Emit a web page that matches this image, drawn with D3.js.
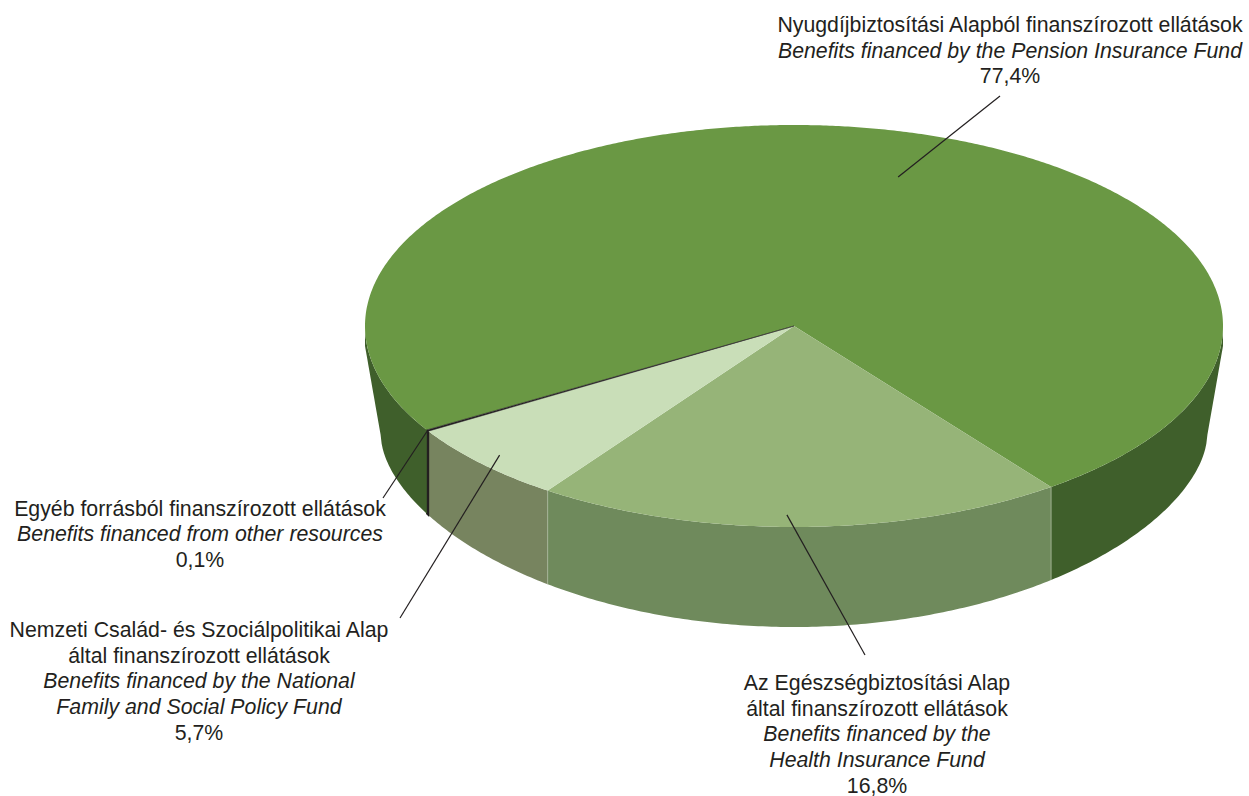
<!DOCTYPE html>
<html>
<head>
  <meta charset="utf-8">
  <style>
    html, body { margin: 0; padding: 0; background: #fff; }
    svg { display: block; }
    svg text { font: 21.3px "Liberation Sans", Arial, sans-serif; fill: #231f20; text-anchor: middle; }
    svg text.en { font-style: italic; }
    svg .leader { stroke: #231f20; stroke-width: 1.2px; fill: none; }
  </style>
</head>
<body>
  <div id="chart"></div>
  <script src="https://d3js.org/d3.v7.min.js"></script>
  <script>
    // data, in pie order going clockwise from the front right edge
    var shares = [16.8, 5.7, 0.1, 77.4];
    var huLines = [
      ["Az Egészségbiztosítási Alap", "által finanszírozott ellátások"],
      ["Nemzeti Család- és Szociálpolitikai Alap", "által finanszírozott ellátások"],
      ["Egyéb forrásból finanszírozott ellátások"],
      ["Nyugdíjbiztosítási Alapból finanszírozott ellátások"]
    ];
    var enLines = [
      ["Benefits financed by the", "Health Insurance Fund"],
      ["Benefits financed by the National", "Family and Social Policy Fund"],
      ["Benefits financed from other resources"],
      ["Benefits financed by the Pension Insurance Fund"]
    ];
    var topColors = ["#96b478", "#c9deb8", "#231f20", "#6a9844"];
    var wallColors = ["#6f8a5c", "#77845f", "#231f20", "#3f5f2b"];

    // label placement: text centre, first baseline, leader end, leader anchor on the slice
    var labelX = [877, 199, 200, 1010];
    var labelY = [690, 637, 515.5, 32];
    var leaderEnd = [[865, 655], [400, 618], [383, 498], [1000, 96]];
    var anchorNudge = [1.6, 0, 0, 12];    // degrees off the slice middle
    var anchorRadius = [0.94, 0.94, 1, 0.78];
    var lineGap = 25.7;

    var width = 1249, height = 796;
    var cx = 794, cy = 326, rx = 429, ry = 201;       // top ellipse
    var bottomCy = 437, bottomRx = 413, bottomRy = 190;  // lower rim is smaller, seen in perspective
    var rimShape = 0.58;                              // lower rim bulges less than a true ellipse
    var rimY = 346;                                   // where the wall leaves the top ellipse
    var perspective = 1.2;
    var rad = Math.PI / 180;

    // angle from the front of the pie (clockwise on screen) -> angle on the drawn ellipse
    function ellipseAngle(a) {
      return 2 * Math.atan2(perspective * Math.sin(a / 2), Math.cos(a / 2));
    }
    function backAngle(e) {
      return 2 * Math.atan2(Math.sin(e / 2), perspective * Math.cos(e / 2));
    }
    function project(a, r) {
      var e = ellipseAngle(a);
      return [cx - rx * r * Math.sin(e), cy + ry * r * Math.cos(e)];
    }
    // lower rim below a point of the top edge
    function lowerPoint(p) {
      var dx = Math.abs(p[0] - cx);
      if (dx <= bottomRx) {
        return [p[0], bottomCy + bottomRy * Math.pow(1 - dx * dx / (bottomRx * bottomRx), rimShape)];
      }
      var k = (dx - bottomRx) / (rx - bottomRx);
      return [p[0], bottomCy + (rimY - bottomCy) * k];
    }

    var pie = d3.pie().sort(null).value(function (d) { return d; })
      .startAngle(-31 * rad).endAngle(329 * rad);
    var slices = pie(shares);

    var svg = d3.select("#chart").append("svg")
      .attr("width", width)
      .attr("height", height);

    var line = d3.line();

    function arcPoints(a0, a1) {
      var n = Math.max(2, Math.ceil(Math.abs(a1 - a0) / (0.5 * rad)));
      return d3.range(n + 1).map(function (i) {
        return project(a0 + (a1 - a0) * i / n, 1);
      });
    }

    // parts of a slice that lie on the front half of the ellipse
    var frontHalf = backAngle(Math.PI / 2);
    function frontRanges(d) {
      var out = [];
      [0, 2 * Math.PI].forEach(function (turn) {
        var lo = Math.max(d.startAngle, turn - frontHalf);
        var hi = Math.min(d.endAngle, turn + frontHalf);
        if (hi > lo) out.push([lo, hi]);
      });
      return out;
    }

    // walls
    slices.forEach(function (d, i) {
      frontRanges(d).forEach(function (range) {
        var top = arcPoints(range[0], range[1]);
        var lower = top.map(lowerPoint).reverse();
        svg.append("path")
          .attr("d", line(top.concat(lower)) + "Z")
          .attr("fill", wallColors[i])
          .attr("stroke", i === 2 ? wallColors[i] : "none")
          .attr("stroke-width", i === 2 ? 1.6 : 0);
      });
    });

    // pale seams between the walls
    [slices[0].startAngle, slices[0].endAngle].forEach(function (a) {
      var p = project(a, 1), q = lowerPoint(p);
      svg.append("line")
        .attr("x1", p[0]).attr("y1", p[1])
        .attr("x2", q[0]).attr("y2", q[1])
        .attr("stroke", "#a9b99c")
        .attr("stroke-width", 0.8);
    });

    // top faces, big slice first so the dark sliver stays on top
    d3.range(slices.length).sort(function (a, b) { return shares[b] - shares[a]; }).forEach(function (i) {
      var d = slices[i];
      var pts = [[cx, cy]].concat(arcPoints(d.startAngle, d.endAngle));
      svg.append("path")
        .attr("d", line(pts) + "Z")
        .attr("fill", topColors[i])
        .attr("stroke", i === 2 ? topColors[i] : "none")
        .attr("stroke-width", i === 2 ? 0.5 : 0);
    });

    // leaders
    slices.forEach(function (d, i) {
      var mid = (d.startAngle + d.endAngle) / 2 + anchorNudge[i] * rad;
      var p = project(mid, anchorRadius[i]);
      svg.append("path")
        .attr("class", "leader")
        .attr("d", line([p, leaderEnd[i]]));
    });

    // labels
    slices.forEach(function (d, i) {
      var value = d.data.toFixed(1).replace(".", ",") + "%";
      var rows = huLines[i].map(function (t) { return { t: t, cls: "hu" }; })
        .concat(enLines[i].map(function (t) { return { t: t, cls: "en" }; }))
        .concat([{ t: value, cls: "hu" }]);
      svg.append("g").selectAll("text")
        .data(rows)
        .enter().append("text")
          .attr("class", function (r) { return r.cls; })
          .attr("x", labelX[i])
          .attr("y", function (r, j) { return labelY[i] + j * lineGap; })
          .text(function (r) { return r.t; });
    });
  </script>
</body>
</html>
